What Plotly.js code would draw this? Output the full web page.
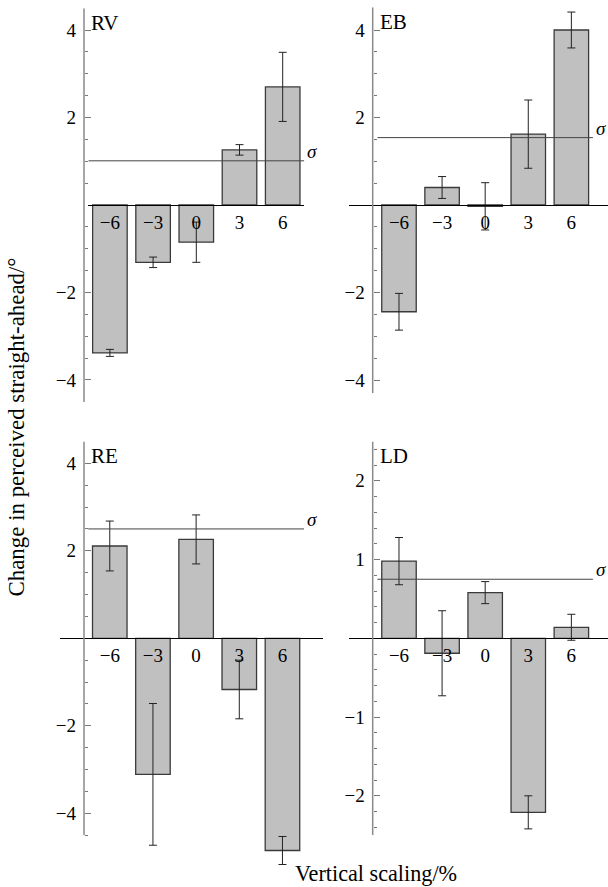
<!DOCTYPE html>
<html><head><meta charset="utf-8">
<script src="https://cdn.plot.ly/plotly-3.0.1.min.js"></script>
<style>html,body{margin:0;padding:0;background:#fff}</style>
</head><body><div id="chart" style="width:608px;height:887px"></div>
<script>
// ---- data ----
const categories = ['\u22126','\u22123','0','3','6'];
const rvValues = [-3.38,-1.31,-0.85,1.26,2.70];
const rvErrors = [0.08,0.12,0.46,0.12,0.79];
const rvSigma = 1.01;
const ebValues = [-2.44,0.40,-0.03,1.62,4.00];
const ebErrors = [0.42,0.25,0.54,0.78,0.41];
const ebSigma = 1.54;
const reValues = [2.11,-3.11,2.26,-1.17,-4.85];
const reErrors = [0.57,1.62,0.56,0.67,0.32];
const reSigma = 2.50;
const ldValues = [0.98,-0.19,0.58,-2.21,0.14];
const ldErrors = [0.30,0.54,0.14,0.21,0.165];
const ldSigma = 0.75;
const panelNames = ['RV','EB','RE','LD'];
const bigTicks = [-4,-2,2,4];
const ldTicks = [-2,-1,1,2];
const yTitle = 'Change in perceived straight-ahead/\u00b0';
const xTitle = 'Vertical scaling/%';

// ---- layout geometry (pixels) ----
const W = 608, H = 887;
const FONT = 'Liberation Serif, Times New Roman, serif';

// font size so that a text occupies a given length (title lengths from the reference)
function fitSize(text, len) {
  const ctx = document.createElement('canvas').getContext('2d');
  ctx.font = '100px "Liberation Serif", serif';
  const w = ctx.measureText(text).width;
  return w > 0 ? Math.round(100 * len / w * 10) / 10 : 20;
}

// ax: y-axis x position; zero: pixel of value 0; ppu: pixels per unit
// axisR: extent of the drawn y axis line; plotR: plotting range (may extend lower)
const panels = [
  {name:panelNames[0], v:rvValues, e:rvErrors, s:rvSigma, tv:bigTicks, xd:[88.3,304.3], xr:[-0.5,4.5], zero:205, ppu:43.75, axisR:[-4.5,4.5], plotR:[-4.5,4.5], ax:84, mdt:0.5},
  {name:panelNames[1], v:ebValues, e:ebErrors, s:ebSigma, tv:bigTicks, xd:[349,608], xr:[-1.16,4.85], zero:205, ppu:43.75, axisR:[-4.3,4.52], plotR:[-4.3,4.52], ax:372.7, mdt:0.5},
  {name:panelNames[2], v:reValues, e:reErrors, s:reSigma, tv:bigTicks, xd:[60,323.3], xr:[-1.153,4.946], zero:638.3, ppu:43.75, axisR:[-4.5,4.5], plotR:[-5.5,4.5], ax:84, mdt:0.5},
  {name:panelNames[3], v:ldValues, e:ldErrors, s:ldSigma, tv:ldTicks, xd:[349,608], xr:[-1.16,4.85], zero:638.3, ppu:78.75, axisR:[-2.5,2.5], plotR:[-2.5,2.5], ax:372.7, mdt:0.2}
];

const px = x => x / W;
const py = y => 1 - y / H;

const data = [];
const layout = {
  width: W, height: H,
  margin: {l:0, r:0, t:0, b:0},
  paper_bgcolor: '#fff', plot_bgcolor: 'rgba(0,0,0,0)',
  showlegend: false,
  font: {family: FONT, color: '#000', size: 18},
  shapes: [], annotations: []
};

panels.forEach((p, i) => {
  const n = i === 0 ? '' : String(i + 1);
  const xa = 'xaxis' + n, ya = 'yaxis' + n;
  const xr = 'x' + n, yr = 'y' + n;
  data.push({
    type: 'bar', x: categories, y: p.v, xaxis: xr, yaxis: yr,
    marker: {color: '#c0c0c0', line: {color: '#3a3a3a', width: 1.3}},
    error_y: {type: 'data', array: p.e, visible: true, color: '#222', thickness: 1, width: 4},
    hoverinfo: 'skip'
  });
  const topPx = p.zero - p.plotR[1] * p.ppu;
  const botPx = p.zero - p.plotR[0] * p.ppu;
  const yDom = [py(botPx), py(topPx)];
  const zeroPos = py(p.zero);
  const minorVals = [];
  for (let k = Math.ceil(p.axisR[0] / p.mdt - 1e-9); k * p.mdt <= p.axisR[1] + 1e-9; k++) {
    const v = +(k * p.mdt).toFixed(3);
    if (v !== 0 && p.tv.indexOf(v) < 0) minorVals.push(v);
  }
  layout[xa] = {
    type: 'category', domain: [px(p.xd[0]), px(p.xd[1])], range: p.xr,
    anchor: 'free', position: zeroPos,
    showline: true, linecolor: '#000', linewidth: 1,
    ticks: '', showgrid: false, zeroline: false,
    tickfont: {family: FONT, size: 19, color: '#000'}, fixedrange: true
  };
  layout[ya] = {
    domain: yDom, range: p.plotR, anchor: 'free', position: px(p.ax),
    showline: false,
    ticks: 'inside', ticklen: 6, tickwidth: 1, tickcolor: '#777',
    tickmode: 'array', tickvals: p.tv,
    minor: {tickmode: 'array', tickvals: minorVals, ticks: 'inside', ticklen: 3, tickcolor: '#777', tickwidth: 1},
    showgrid: false, zeroline: false, ticklabelstandoff: 8,
    tickfont: {family: FONT, size: 19, color: '#000'}, fixedrange: true
  };
  layout.shapes.push({type: 'line', xref: 'paper', yref: yr, x0: px(p.ax), x1: px(p.ax),
    y0: p.axisR[0], y1: p.axisR[1], line: {color: '#8a8a8a', width: 1.5}});
  layout.shapes.push({type: 'line', xref: xr, yref: yr, x0: -0.5, x1: 4.5, y0: p.s, y1: p.s,
    line: {color: '#444', width: 1}});
  layout.annotations.push({xref: xr, yref: yr, x: 4.5, y: p.s, xanchor: 'left', yanchor: 'bottom',
    xshift: 1, yshift: -3, text: '<i>\u03c3</i>', showarrow: false, font: {family: FONT, size: 19}});
  const topAxisPx = p.zero - p.axisR[1] * p.ppu;
  layout.annotations.push({xref: 'paper', yref: 'paper', x: px(p.ax + 5), y: py(topAxisPx + 1),
    xanchor: 'left', yanchor: 'top', text: p.name, showarrow: false, font: {family: FONT, size: 21}});
});

layout.annotations.push({xref: 'paper', yref: 'paper', x: px(376), y: py(873), xanchor: 'center', yanchor: 'middle',
  text: xTitle, showarrow: false, font: {family: FONT, size: fitSize(xTitle, 162)}});
layout.annotations.push({xref: 'paper', yref: 'paper', x: px(16), y: py(427.5), xanchor: 'center', yanchor: 'middle',
  text: yTitle, textangle: -90, showarrow: false, font: {family: FONT, size: fitSize(yTitle, 339)}});

Plotly.newPlot('chart', data, layout, {displayModeBar: false, staticPlot: true});
</script></body></html>
